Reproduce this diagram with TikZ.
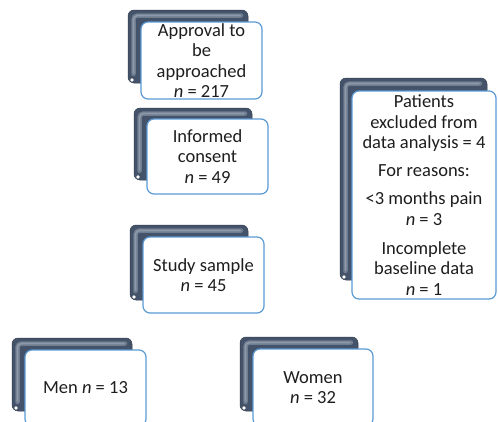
\documentclass[tikz,border=0pt]{standalone}
\usepackage{fontspec}
\setmainfont{Carlito}
\usetikzlibrary{calc,backgrounds}

\definecolor{slate}{HTML}{44536A}
\definecolor{slatedark}{HTML}{323E4E}
\definecolor{slatelight}{HTML}{6F7D90}
\definecolor{slatesheen}{HTML}{8E9AAA}
\definecolor{boxblue}{HTML}{5B9BD5}
\definecolor{ink}{HTML}{1E1E1E}

\tikzset{
  % bevelled dark frame peeking out behind each box
  backframe/.style={fill=slate, draw=slatedark, line width=0.5pt,
    rounded corners=6pt, inner sep=0pt,
    path picture={
      \draw[slatelight, line width=4.5pt, rounded corners=4pt, line cap=round]
        ([xshift=5.5pt,yshift=9pt]path picture bounding box.south west)
        -- ([xshift=5.5pt,yshift=-5.5pt]path picture bounding box.north west)
        -- ([xshift=-7pt,yshift=-5.5pt]path picture bounding box.north east);
      \draw[slatesheen, line width=1.6pt, rounded corners=4pt, line cap=round]
        ([xshift=5.5pt,yshift=10pt]path picture bounding box.south west)
        -- ([xshift=5.5pt,yshift=-5.5pt]path picture bounding box.north west)
        -- ([xshift=-8pt,yshift=-5.5pt]path picture bounding box.north east);
      \fill[white] ([xshift=4pt,yshift=3pt]path picture bounding box.south west) circle (1.8pt);
    }},
  frontbox/.style={fill=white, draw=boxblue, line width=1.2pt,
    rounded corners=7pt, align=center, text=ink, inner sep=0pt,
    font=\fontsize{18.5}{20.5}\selectfont},
  conn/.style={draw=slatedark, line width=1.1pt}
}

\begin{document}
\begin{tikzpicture}[x=1pt,y=-1pt]
\clip (0,0) rectangle (498,421);
\fill[white] (0,0) rectangle (498,421);

% Approval
\node[backframe, minimum width=120pt, minimum height=73pt] (apprbk) at (188,46.5) {};
\node[frontbox, minimum width=121pt, minimum height=77pt] (appr) at (201.5,60.5)
  {Approval to\\be\\approached\\\textit{n} = 217};

% Informed consent
\node[backframe, minimum width=118pt, minimum height=72pt] (consbk) at (193,144) {};
\node[frontbox, minimum width=121pt, minimum height=75pt] (cons) at (207.5,156.5)
  {Informed\\consent\\\textit{n} = 49};

% Study sample
\node[backframe, minimum width=118pt, minimum height=75pt] (studybk) at (189,262.5) {};
\node[frontbox, minimum width=121pt, minimum height=76pt] (study) at (203.5,275)
  {Study sample\\\textit{n} = 45};

% Excluded patients
\node[backframe, minimum width=147pt, minimum height=202pt] (exclbk) at (413.5,179) {};
\node[frontbox, minimum width=144pt, minimum height=208pt] (excl) at (424,195)
  {Patients\\excluded from\\data analysis = 4\\[7.5pt]For reasons:\\[7.5pt]<3 months pain\\\textit{n} = 3\\[8.5pt]Incomplete\\baseline data\\\textit{n} = 1};

% Men
\node[backframe, minimum width=120pt, minimum height=73pt] (menbk) at (72,374.5) {};
\node[frontbox, minimum width=121pt, minimum height=76pt] (men) at (85.5,388)
  {Men \textit{n} = 13};

% Women
\node[backframe, minimum width=118pt, minimum height=74pt] (womenbk) at (299,374) {};
\node[frontbox, minimum width=120pt, minimum height=77pt] (women) at (313,387.5)
  {Women\\\textit{n} = 32};

% Split connector below the study sample
\begin{pgfonlayer}{background}
  \coordinate (split) at ($(study.south)+(0,17)$);
  \draw[conn] ($(study.south)+(-15,0)$) rectangle (split);
  \draw[conn] (split) -| (menbk.north);
  \draw[conn] (split) -| (women.north);
\end{pgfonlayer}
\end{tikzpicture}
\end{document}
